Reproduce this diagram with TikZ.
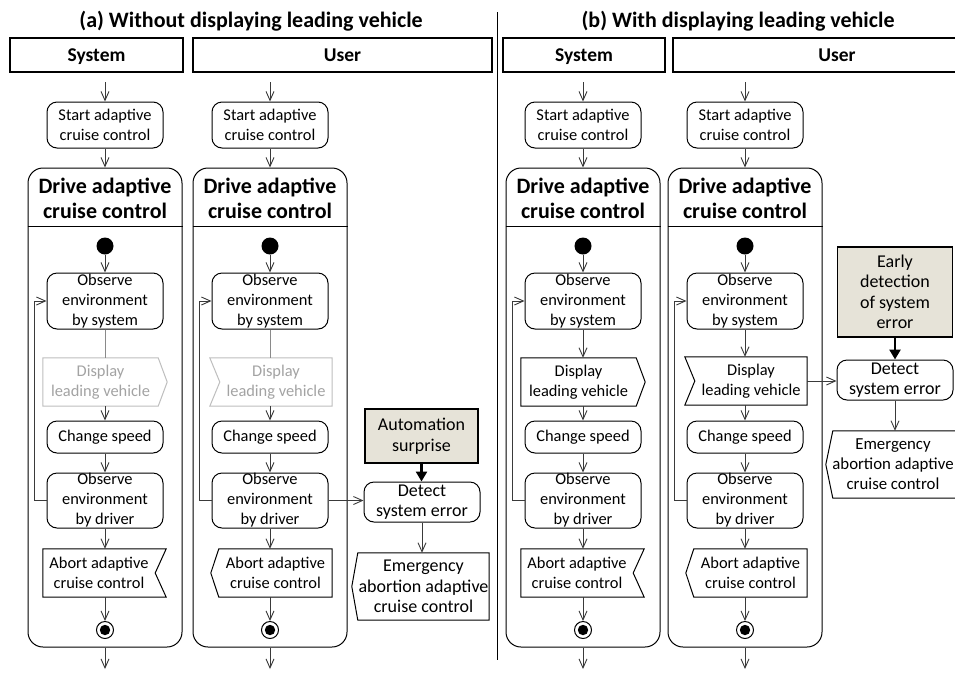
\documentclass[tikz,border=0pt]{standalone}
\usepackage{fontspec}
\setmainfont{Carlito}
\usetikzlibrary{arrows.meta}
\definecolor{linec}{HTML}{3A3A3A}
\definecolor{notefill}{HTML}{E6E3D8}
\definecolor{fadeline}{HTML}{BEBEBE}
\definecolor{fadetext}{HTML}{A3A3A3}
\definecolor{fadeflow}{HTML}{8A8A8A}

\tikzset{
  txt/.style={font=\fontsize{16.4}{20}\selectfont, align=center, inner sep=0pt},
  sidetxt/.style={font=\fontsize{18}{20.5}\selectfont, align=center, inner sep=0pt},
  act/.style={txt, draw, line width=1pt, rounded corners=10pt, minimum width=116pt},
  lanebox/.style={draw, line width=1pt, rounded corners=15pt, minimum width=154pt, minimum height=479pt, inner sep=0pt},
  lanetitle/.style={font=\bfseries\fontsize{22}{25}\selectfont, align=center, inner sep=0pt},
  header/.style={draw, line width=1.2pt, font=\bfseries\fontsize{19.5}{24}\selectfont, minimum height=34pt, inner sep=0pt, text height=13.5pt, text depth=0pt},
  paneltitle/.style={font=\bfseries\fontsize{22}{26}\selectfont, inner sep=0pt},
  sigbox/.style={txt, minimum height=48pt},
  outline/.style={draw=black, line width=1pt},
  fadedoutline/.style={draw=fadeline, line width=1pt},
  flow/.style={draw=linec, line width=0.9pt, -{Straight Barb[length=9pt,width=8pt]}},
  fadedlink/.style={draw=fadeflow, line width=0.9pt},
  bigflow/.style={draw=black, line width=2.6pt, -{Triangle[length=10pt,width=11pt]}},
  note/.style={sidetxt, draw, line width=1.2pt, fill=notefill},
  initnode/.style={circle, fill=black, minimum size=17pt, inner sep=0pt},
  finalnode/.style={circle, draw=black, line width=1pt, fill=white, minimum size=17pt, inner sep=0pt},
}

% One swim-lane body: start action, the "Drive adaptive cruise control"
% activity with its initial node, actions, loop and final node.
\newcommand\drivelane[2]{%
  \begin{scope}[name prefix=#1-, shift={(#2,0)}]
    \coordinate (in) at (0,82);
    \node[act, minimum height=46pt] (start) at (0,125) {Start adaptive\\cruise control};
    \node[lanebox] (drive) at (0,407.5) {};
    \coordinate (rule) at (0,226);
    \draw[line width=1pt] (drive.west |- rule) -- (drive.east |- rule);
    \node[lanetitle] (title) at (0,198.5) {Drive adaptive\\cruise control};
    \node[initnode] (init) at (0,246) {};
    \node[act, minimum height=56pt] (obs) at (0,301) {Observe\\environment\\by system};
    \node[act, minimum height=32pt] (speed) at (0,437) {Change speed};
    \node[act, minimum height=55pt] (drv) at (0,500.5) {Observe\\environment\\by driver};
    \node[finalnode] (final) at (0,630) {};
    \fill (final.center) circle[radius=5.2pt];
    \coordinate (out) at (0,669);
    \coordinate (loop) at ([xshift=7pt]drive.west);
    \draw[flow] (in) -- (start);
    \draw[flow] (start) -- (drive.north);
    \draw[flow] (init) -- (obs);
    \draw[flow] (speed) -- (drv);
    \draw[flow] (drive.south) -- (out);
    \draw[flow] (drv.west) -| (loop) |- (obs.west);
  \end{scope}}

\begin{document}
\begin{tikzpicture}[x=1pt, y=-1pt]
  \useasboundingbox (0,0) rectangle (955,673);
  \fill[white] (0,0) rectangle (955,673);
  \clip (0,0) rectangle (955,673);

  % panel titles and divider
  \node[paneltitle, anchor=base] (ta) at (251,27.5) {(a) Without displaying leading vehicle};
  \node[paneltitle, anchor=base] (tb) at (738,27.5) {(b) With displaying leading vehicle};
  \coordinate (divtop) at (497,12);
  \coordinate (divbot) at (497,660);
  \draw[line width=1pt] (divtop) -- (divbot);

  % lane headers
  \node[header, minimum width=173pt] (aSys) at (96.5,55) {System};
  \node[header, minimum width=299pt] (aUsr) at (342.5,55) {User};
  \node[header, minimum width=162pt] (bSys) at (584,55) {System};
  \node[header, minimum width=328pt] (bUsr) at (837,55) {User};

  % lane bodies
  \drivelane{aS}{105}
  \drivelane{aU}{270}
  \drivelane{bS}{583}
  \drivelane{bU}{745}

  % ---------- (a) System: faded display, abort ----------
  \node[sigbox, minimum width=115pt, text=fadetext] (aS-disp) at (100.5,382) {Display\\leading vehicle};
  \draw[fadedoutline] (aS-disp.north west) -- (aS-disp.north east) -- ([xshift=9pt]aS-disp.east)
        -- (aS-disp.south east) -- (aS-disp.south west) -- cycle;
  \draw[fadedlink] (aS-obs) -- (aS-obs |- aS-disp.north);
  \draw[flow] (aS-obs |- aS-disp.south) -- (aS-speed);
  \node[sigbox, minimum width=112pt] (aS-abort) at (99,573) {Abort adaptive\\cruise control};
  \draw[outline] (aS-abort.north west) -- ([xshift=11pt]aS-abort.north east) -- (aS-abort.east)
        -- ([xshift=11pt]aS-abort.south east) -- (aS-abort.south west) -- cycle;
  \draw[flow] (aS-drv) -- (aS-drv |- aS-abort.north);
  \draw[flow] (aS-drv |- aS-abort.south) -- (aS-final);

  % ---------- (a) User: faded display, abort ----------
  \node[sigbox, minimum width=112pt, text=fadetext] (aU-disp) at (276,382) {Display\\leading vehicle};
  \draw[fadedoutline] ([xshift=-10pt]aU-disp.north west) -- (aU-disp.north east) -- (aU-disp.south east)
        -- ([xshift=-10pt]aU-disp.south west) -- (aU-disp.west) -- cycle;
  \draw[fadedlink] (aU-obs) -- (aU-obs |- aU-disp.north);
  \draw[flow] (aU-obs |- aU-disp.south) -- (aU-speed);
  \node[sigbox, minimum width=113pt] (aU-abort) at (275.5,573) {Abort adaptive\\cruise control};
  \draw[outline] (aU-abort.north west) -- (aU-abort.north east) -- (aU-abort.south east)
        -- (aU-abort.south west) -- ([xshift=-8pt]aU-abort.west) -- cycle;
  \draw[flow] (aU-drv) -- (aU-drv |- aU-abort.north);
  \draw[flow] (aU-drv |- aU-abort.south) -- (aU-final);

  % ---------- (a) automation surprise ----------
  \node[note, minimum width=113pt, minimum height=54pt] (aNote) at (421.5,436) {Automation\\surprise};
  \node[act, sidetxt, draw, rounded corners=10pt, minimum width=116pt, minimum height=40pt] (aDet) at (422,502) {Detect\\system error};
  \node[sidetxt, minimum width=131pt, minimum height=67pt] (aEmg) at (423.5,586.5) {Emergency\\abortion adaptive\\cruise control};
  \draw[outline] (aEmg.north west) -- (aEmg.north east) -- (aEmg.south east)
        -- (aEmg.south west) -- ([xshift=-6pt]aEmg.west) -- cycle;
  \draw[bigflow] (aNote) -- (aNote |- aDet.north);
  \draw[flow] (aU-drv.east) -- (aU-drv.east -| aDet.west);
  \draw[flow] (aDet) -- (aDet |- aEmg.north);

  % ---------- (b) System: display, abort ----------
  \node[sigbox, minimum width=115pt] (bS-disp) at (578.5,382) {Display\\leading vehicle};
  \draw[outline] (bS-disp.north west) -- (bS-disp.north east) -- ([xshift=9pt]bS-disp.east)
        -- (bS-disp.south east) -- (bS-disp.south west) -- cycle;
  \draw[flow] (bS-obs) -- (bS-obs |- bS-disp.north);
  \draw[flow] (bS-obs |- bS-disp.south) -- (bS-speed);
  \node[sigbox, minimum width=112pt] (bS-abort) at (577,573) {Abort adaptive\\cruise control};
  \draw[outline] (bS-abort.north west) -- ([xshift=11pt]bS-abort.north east) -- (bS-abort.east)
        -- ([xshift=11pt]bS-abort.south east) -- (bS-abort.south west) -- cycle;
  \draw[flow] (bS-drv) -- (bS-drv |- bS-abort.north);
  \draw[flow] (bS-drv |- bS-abort.south) -- (bS-final);

  % ---------- (b) User: display, abort ----------
  \node[sigbox, minimum width=112pt] (bU-disp) at (751,381) {Display\\leading vehicle};
  \draw[outline] ([xshift=-10pt]bU-disp.north west) -- (bU-disp.north east) -- (bU-disp.south east)
        -- ([xshift=-10pt]bU-disp.south west) -- (bU-disp.west) -- cycle;
  \draw[flow] (bU-obs) -- (bU-obs |- bU-disp.north);
  \draw[flow] (bU-obs |- bU-disp.south) -- (bU-speed);
  \node[sigbox, minimum width=113pt] (bU-abort) at (750.5,573) {Abort adaptive\\cruise control};
  \draw[outline] (bU-abort.north west) -- (bU-abort.north east) -- (bU-abort.south east)
        -- (bU-abort.south west) -- ([xshift=-8pt]bU-abort.west) -- cycle;
  \draw[flow] (bU-drv) -- (bU-drv |- bU-abort.north);
  \draw[flow] (bU-drv |- bU-abort.south) -- (bU-final);

  % ---------- (b) early detection ----------
  \node[note, minimum width=115pt, minimum height=90pt] (bNote) at (895,292) {Early\\detection\\of system\\error};
  \node[act, sidetxt, draw, rounded corners=10pt, minimum width=116pt, minimum height=40pt] (bDet) at (895,380) {Detect\\system error};
  \node[minimum width=131pt, minimum height=67pt, inner sep=0pt] (bEmg) at (898.5,464.5) {};
  \draw[outline] (bEmg.north west) -- (bEmg.north east) -- (bEmg.south east)
        -- (bEmg.south west) -- ([xshift=-7pt]bEmg.west) -- cycle;
  \node[sidetxt, font=\fontsize{16.8}{20}\selectfont] (bEmgText) at (893,464.5) {Emergency\\abortion adaptive\\cruise control};
  \draw[bigflow] (bNote) -- (bNote |- bDet.north);
  \draw[flow] (bU-disp.east) -- (bU-disp.east -| bDet.west);
  \draw[flow] (bDet) -- (bDet |- bEmg.north);
\end{tikzpicture}
\end{document}
